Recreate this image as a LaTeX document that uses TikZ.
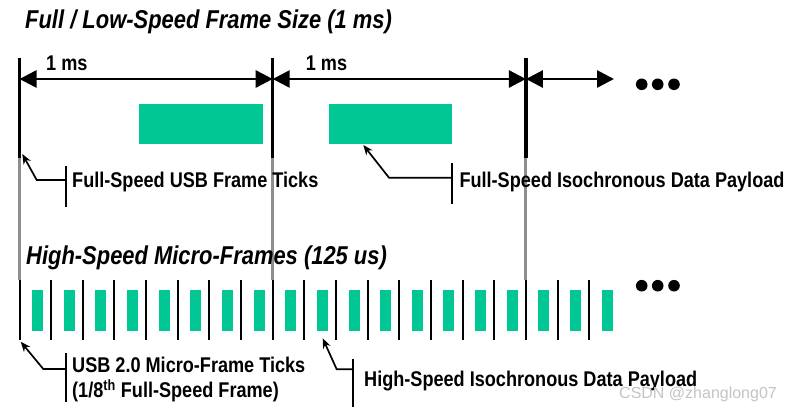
\documentclass[tikz,border=0pt]{standalone}
\usepackage{fontspec}
\setmainfont{Liberation Sans}
\newfontfamily\slimsans[FakeStretch=0.85]{Liberation Sans}
\usepackage{tikz}
\usetikzlibrary{arrows.meta,positioning}
\definecolor{payc}{HTML}{00C794}
\definecolor{guidec}{HTML}{8E8E8E}
\definecolor{markc}{HTML}{C4C4C4}
\tikzset{
  fstick/.style={line width=3.2pt,black},
  ustick/.style={line width=2pt,black},
  guide/.style={line width=3pt,guidec},
  span/.style={{Triangle[length=17pt,width=17pt]}-{Triangle[length=17pt,width=17pt]},line width=2.6pt},
  call/.style={-{Stealth[length=10pt,width=8pt]},line width=1.7pt},
  bar/.style={line width=2pt},
  pay/.style={fill=payc,draw=none},
  head/.style={font=\slimsans\bfseries\itshape\fontsize{25.8}{28}\selectfont,inner sep=0pt,anchor=base west},
  lbl/.style={font=\slimsans\bfseries\fontsize{21.3}{25}\selectfont,inner sep=0pt,anchor=base west,align=left}
}
\begin{document}
\begin{tikzpicture}[x=1pt,y=-1pt]
\useasboundingbox[fill=white] (0,0) rectangle (791,412);
% frame ticks (1 ms) and their grey guides
\coordinate (f0) at (19.5,58); \coordinate (f1) at (272.7,58); \coordinate (f2) at (525.9,58);
\foreach \n in {f0,f1,f2} {
  \draw[guide] (\n) ++(0,100) -- ++(0,122);
  \draw[fstick] (\n) -- ++(0,100);
}
% 1 ms spans
\coordinate (s0) at (19.5,79); \coordinate (s1) at (272.7,79);
\coordinate (s2) at (525.9,79); \coordinate (s3) at (614,79);
\draw[span] (s0) -- (s1);
\draw[span] (s1) -- (s2);
\draw[span] (s2) -- (s3);
\node[lbl] (ms1) at (46,70.7) {1 ms};
\node[lbl] (ms2) at (305.7,70.7) {1 ms};
% full-speed payloads
\fill[pay] (139,104) rectangle (263,144);
\fill[pay] (329,104) rectangle (452,144);
% micro-frame ticks and payloads
\foreach \i in {0,...,18} {
  \pgfmathsetmacro\tx{19.5+31.65*\i}
  \draw[ustick] (\tx,280) -- (\tx,340);
  \fill[pay] (\tx+12.5,290) rectangle (\tx+23.5,331);
}
% dots
\foreach \x in {641.7,657.7,674} {
  \fill (\x,84.3) circle (5.8);
  \fill (\x,285.7) circle (5.8);
}
% titles
\node[head] (fstitle) at (25,28.3) {Full / Low-Speed Frame Size (1 ms)};
\node[head] (hstitle) at (26,264) {High-Speed Micro-Frames (125 us)};
% callouts
\coordinate (t1) at (22.3,154); \coordinate (e1) at (36.7,180); \coordinate (b1) at (65.7,180);
\draw[bar] (65.7,165.7) -- (65.7,207.3);
\draw[call] (b1) -- (e1) -- (t1);
\node[lbl] (fsticks) at (72,187.7) {Full-Speed USB Frame Ticks};

\coordinate (t2) at (363.3,145); \coordinate (e2) at (389,177.7); \coordinate (b2) at (452,177.7);
\draw[bar] (452,163.3) -- (452,204);
\draw[call] (b2) -- (e2) -- (t2);
\node[lbl] (fspay) at (459.3,187.3) {Full-Speed Isochronous Data Payload};

\coordinate (t3) at (20.7,341.7); \coordinate (e3) at (43.3,369); \coordinate (b3) at (65.7,369);
\draw[bar] (65.7,353.3) -- (65.7,401.7);
\draw[call] (b3) -- (e3) -- (t3);
\node[lbl] (usticks) at (72,397.7) {USB 2.0 Micro-Frame Ticks\\(1/8\textsuperscript{th} Full-Speed Frame)};

\coordinate (t4) at (322.7,338.3); \coordinate (e4) at (336.7,369.3); \coordinate (b4) at (353.3,369.3);
\draw[bar] (353.3,359.3) -- (353.3,406.7);
\draw[call] (b4) -- (e4) -- (t4);
\node[lbl] (hspay) at (364,386.7) {High-Speed Isochronous Data Payload};

\node[font=\fontsize{16}{18}\selectfont,text=markc,inner sep=0pt,anchor=base west] (mark) at (619,398) {CSDN @zhanglong07};
\end{tikzpicture}
\end{document}
